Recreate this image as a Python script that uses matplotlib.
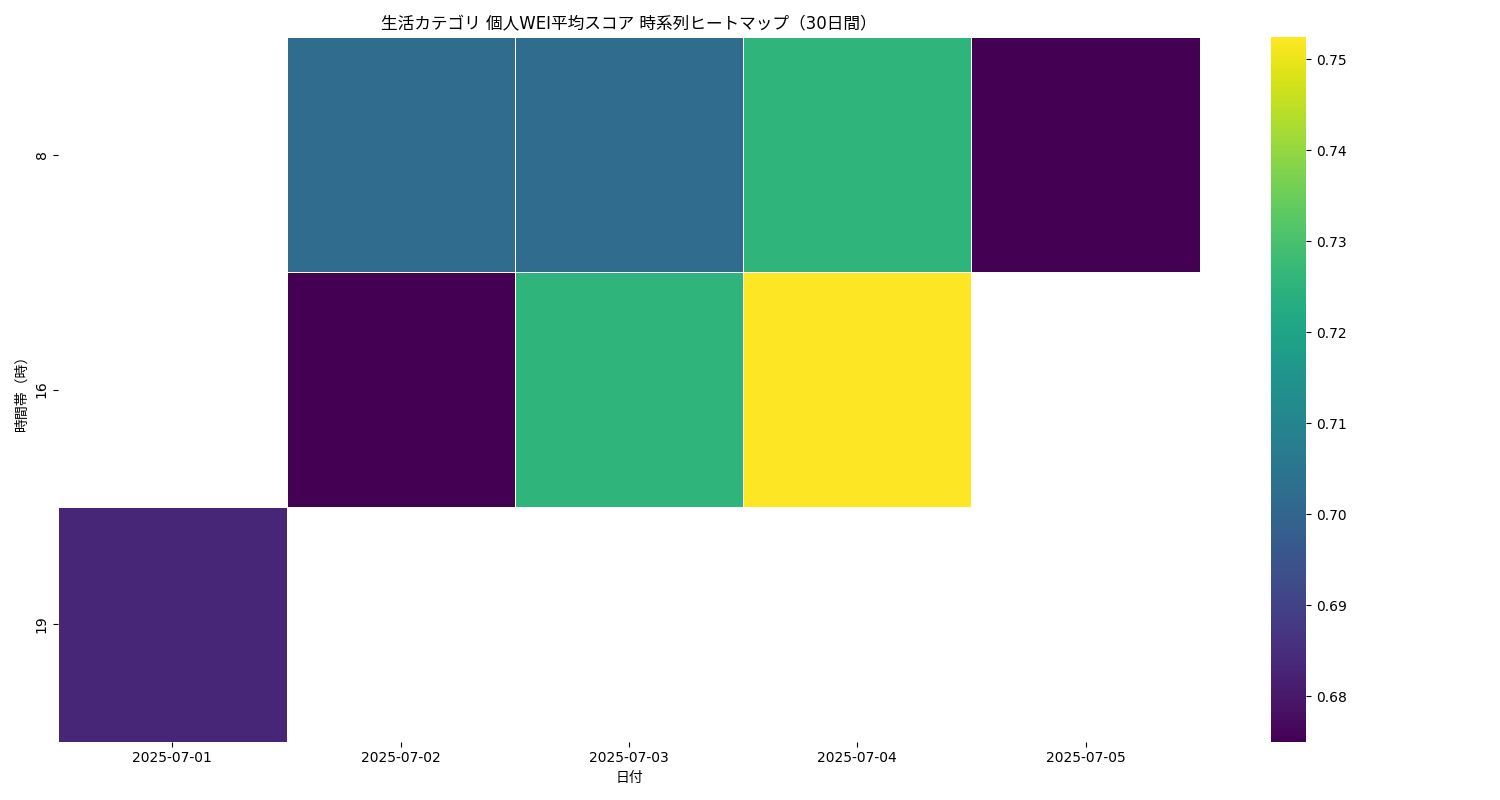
import numpy as np
import pandas as pd
import matplotlib
matplotlib.use("Agg")
import matplotlib.pyplot as plt
import seaborn as sns

plt.rcParams["font.family"] = ["DejaVu Sans", "Noto Sans CJK JP"]

dates = ["2025-07-01", "2025-07-02", "2025-07-03", "2025-07-04", "2025-07-05"]
hours = [8, 16, 19]
score_h8 = [np.nan, 0.7021, 0.7021, 0.7253, 0.6750]
score_h16 = [np.nan, 0.6750, 0.7253, 0.7524, np.nan]
score_h19 = [0.6832, np.nan, np.nan, np.nan, np.nan]

pivot = pd.DataFrame([score_h8, score_h16, score_h19], index=hours, columns=dates)

fig, ax = plt.subplots(figsize=(15, 8), dpi=100)
sns.heatmap(pivot, cmap="viridis", linewidths=0.5, linecolor="white", ax=ax)
ax.set_title("生活カテゴリ 個人WEI平均スコア 時系列ヒートマップ（30日間）")
ax.set_xlabel("日付")
ax.set_ylabel("時間帯（時）")
plt.tight_layout()
plt.savefig("out.png", dpi=100)
